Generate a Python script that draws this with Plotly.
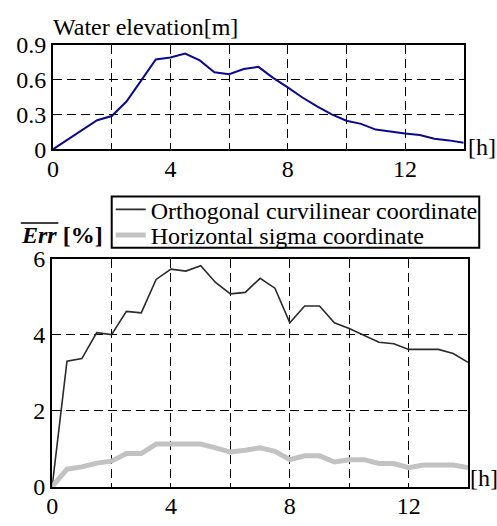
import plotly.graph_objects as go

# ---- data ----
hours = [0, 0.5, 1, 1.5, 2, 2.5, 3, 3.5, 4, 4.5, 5, 5.5, 6, 6.5, 7, 7.5, 8, 8.5,
         9, 9.5, 10, 10.5, 11, 11.5, 12, 12.5, 13, 13.5, 14]
water_elevation = [0, 0.085, 0.17, 0.25, 0.286, 0.41, 0.59, 0.772, 0.79, 0.824, 0.764,
                   0.663, 0.646, 0.69, 0.709, 0.614, 0.532, 0.445, 0.368, 0.30, 0.245,
                   0.218, 0.169, 0.15, 0.136, 0.123, 0.09, 0.076, 0.055]
err_orthogonal = [0, 3.30, 3.37, 4.05, 4.0, 4.61, 4.57, 5.45, 5.72, 5.67, 5.81, 5.37,
                  5.07, 5.11, 5.48, 5.22, 4.31, 4.75, 4.75, 4.31, 4.16, 3.97, 3.80,
                  3.76, 3.61, 3.61, 3.61, 3.50, 3.27]
err_sigma = [0, 0.46, 0.52, 0.62, 0.67, 0.87, 0.87, 1.12, 1.12, 1.12, 1.12, 1.02,
             0.91, 0.96, 1.02, 0.93, 0.71, 0.81, 0.81, 0.65, 0.71, 0.71, 0.61, 0.61,
             0.50, 0.57, 0.57, 0.57, 0.50]

x_tickvals = [0, 2, 4, 6, 8, 10, 12]
x_ticktext = ["0", "", "4", "", "8", "", "12"]
y1_tickvals = [0, 0.3, 0.6, 0.9]
y1_ticktext = ["0", "0.3", "0.6", "0.9"]
y2_tickvals = [0, 2, 4, 6]
y2_ticktext = ["0", "2", "4", "6"]

series_names = ["Orthogonal curvilinear coordinate", "Horizontal sigma coordinate"]

W, H = 497, 526
FONT = "Liberation Serif"
FS = 24


def px_x(p):
    return p / W


def px_y(p):
    return 1 - p / H


fig = go.Figure()

fig.add_trace(go.Scatter(x=hours, y=water_elevation, mode="lines",
                         line=dict(color="#0a0a8c", width=2),
                         showlegend=False, xaxis="x", yaxis="y"))
fig.add_trace(go.Scatter(x=hours, y=err_orthogonal, mode="lines",
                         line=dict(color="#2a2a2a", width=1.6),
                         name=series_names[0], xaxis="x2", yaxis="y2", legend="legend"))
fig.add_trace(go.Scatter(x=hours, y=err_sigma, mode="lines",
                         line=dict(color="#c2c2c2", width=5),
                         name=series_names[1], xaxis="x2", yaxis="y2", legend="legend2"))

axis_common = dict(showline=True, linecolor="black", linewidth=2, mirror=True,
                   showgrid=True, gridcolor="black", gridwidth=1, griddash="9px,5px",
                   zeroline=False, ticks="", tickfont=dict(family=FONT, size=FS, color="black"))

legend_common = dict(xanchor="left", yanchor="middle", borderwidth=0,
                     bgcolor="rgba(0,0,0,0)",
                     font=dict(family=FONT, size=FS, color="black"),
                     tracegroupgap=0, itemwidth=30)

fig.update_layout(
    width=W, height=H,
    margin=dict(l=0, r=0, t=0, b=0),
    paper_bgcolor="white", plot_bgcolor="white",
    font=dict(family=FONT, size=FS, color="black"),
    xaxis=dict(domain=[px_x(47.7), px_x(463.3)], range=[0, 14], anchor="y",
               tickvals=x_tickvals, ticktext=x_ticktext, ticklabelstandoff=-3, **axis_common),
    yaxis=dict(domain=[px_y(143.3), px_y(33.3)], range=[0, 0.9], anchor="x",
               tickvals=y1_tickvals, ticktext=y1_ticktext, **axis_common),
    xaxis2=dict(domain=[px_x(46.7), px_x(467.7)], range=[0, 14], anchor="y2",
                tickvals=x_tickvals, ticktext=x_ticktext, ticklabelstandoff=-3, **axis_common),
    yaxis2=dict(domain=[px_y(498.3), px_y(258.3)], range=[0, 6], anchor="x2",
                tickvals=y2_tickvals, ticktext=y2_ticktext, **axis_common),
    legend=dict(x=px_x(106), y=px_y(207), **legend_common),
    legend2=dict(x=px_x(106), y=px_y(234), **legend_common),
    showlegend=True,
)

annotations = [
    dict(text="Water elevation[m]", x=px_x(46), y=px_y(15), xanchor="left", yanchor="middle"),
    dict(text="[h]", x=px_x(466), y=px_y(141), xanchor="left", yanchor="middle"),
    dict(text="[h]", x=px_x(468), y=px_y(489), xanchor="left", yanchor="middle"),
    dict(text="<b><i>Err</i> [%]</b>", x=px_x(13), y=px_y(234), xanchor="left", yanchor="middle"),
]
for a in annotations:
    a.update(xref="paper", yref="paper", showarrow=False,
             font=dict(family=FONT, size=FS, color="black"))
fig.update_layout(annotations=annotations)

# legend frame and overline above "Err"
fig.add_shape(type="rect", xref="paper", yref="paper",
              x0=px_x(107), x1=px_x(479), y0=px_y(247), y1=px_y(193),
              line=dict(color="black", width=2), fillcolor="white", layer="below")
fig.add_shape(type="line", xref="paper", yref="paper",
              x0=px_x(15), x1=px_x(53), y0=px_y(221), y1=px_y(221),
              line=dict(color="black", width=1.5))

fig.write_html("out.html")
